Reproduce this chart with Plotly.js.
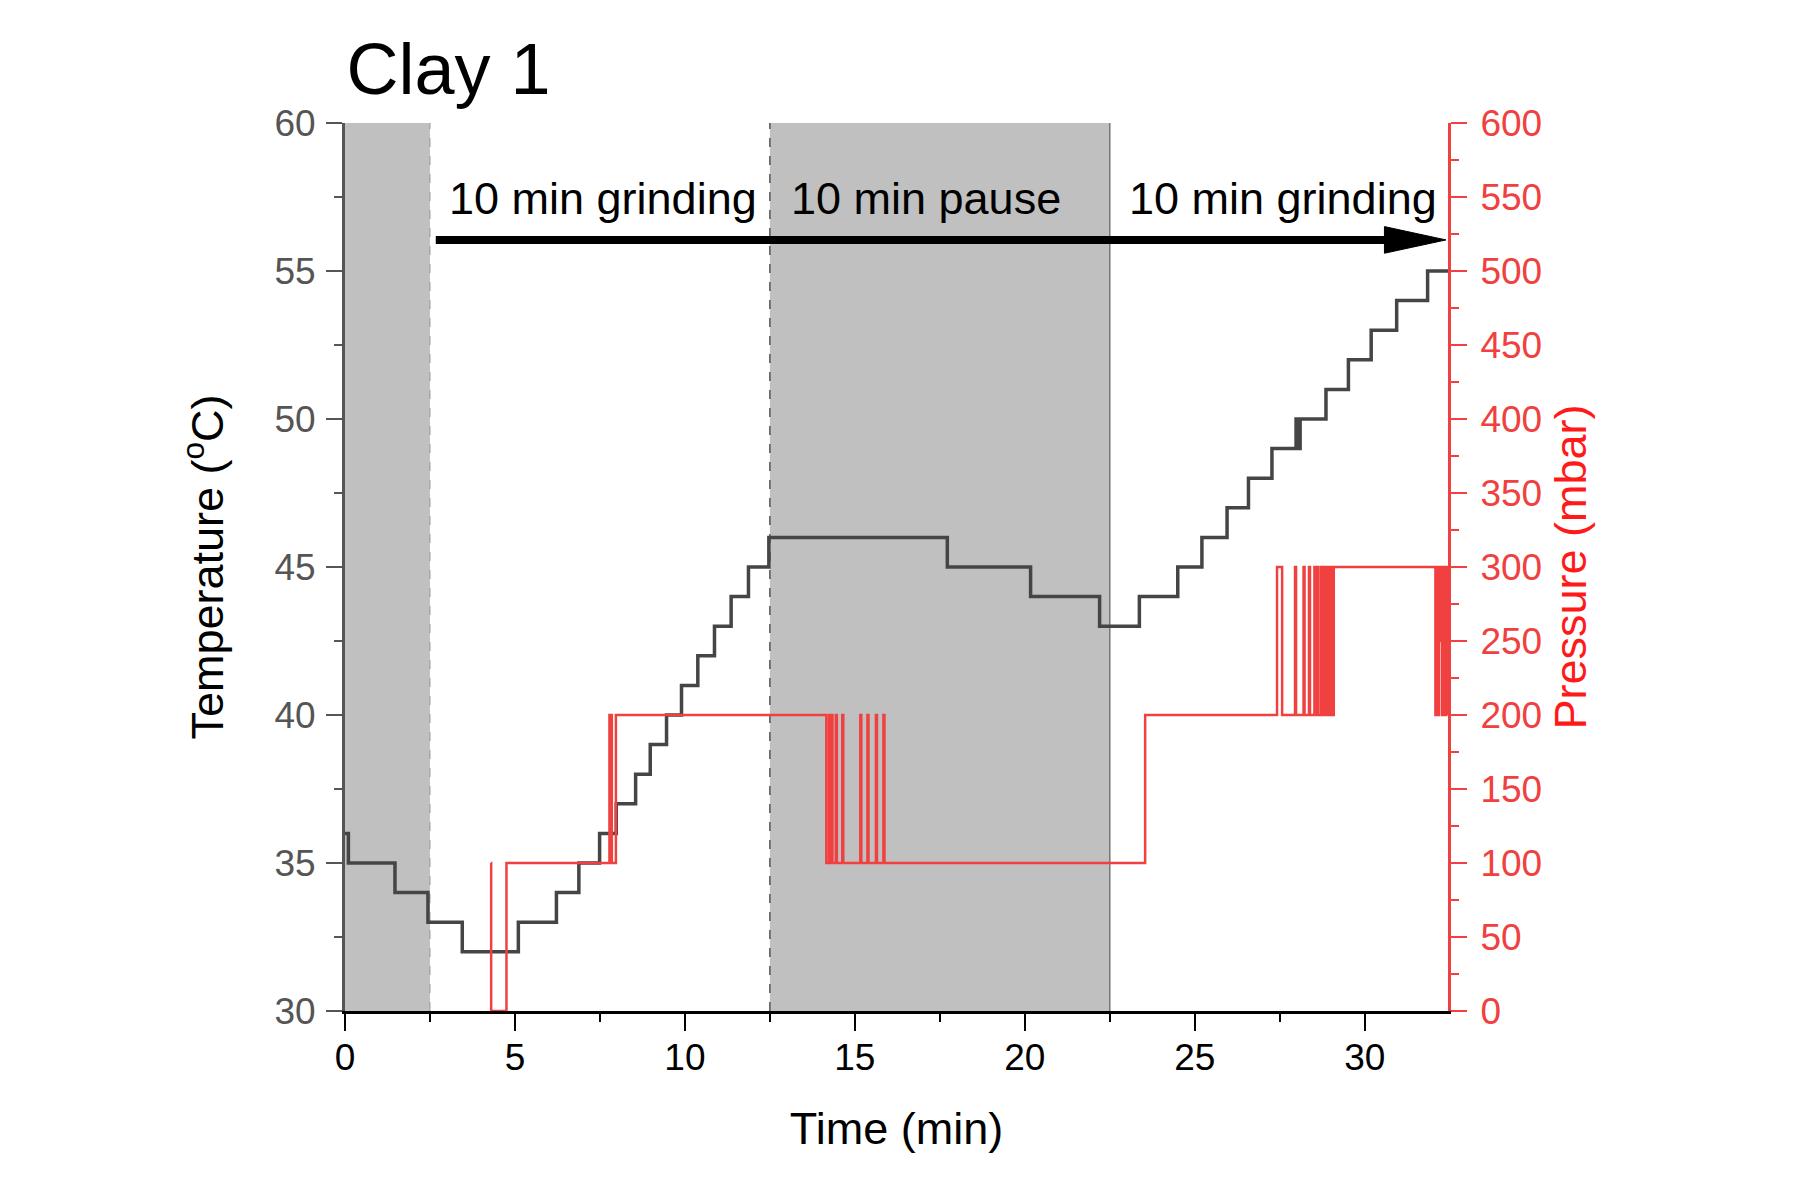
<!DOCTYPE html>
<html>
<head>
<meta charset="utf-8">
<script src="https://cdn.plot.ly/plotly-3.0.1.min.js"></script>
<style>
  body { margin: 0; background: #fff; }
  #chart { width: 1800px; height: 1200px; }
</style>
</head>
<body>
<div id="chart"></div>
<script>
// temperature steps (min, degC)
const tempTime = [0, 0.1, 1.47, 2.44, 3.45, 5.1, 6.22, 6.88, 7.49, 7.98, 8.55, 8.98, 9.46, 9.9,
  10.38, 10.87, 11.36, 11.87, 12.47, 17.72, 20.17, 22.2, 23.37, 24.5, 25.21, 25.95, 26.58,
  27.27, 27.98, 28.03, 28.1, 28.86, 29.52, 30.19, 30.94, 31.85, 32.45];
const tempValue = [36, 35, 34, 33, 32, 33, 34, 35, 36, 37, 38, 39, 40, 41,
  42, 43, 44, 45, 46, 45, 44, 43, 44, 45, 46, 47, 48,
  49, 50, 49, 50, 51, 52, 53, 54, 55, 55];

// pressure steps (min, mbar)
const pressTime = [4.29, 4.3, 4.75, 7.78, 7.85, 7.97,
  14.16, 14.24, 14.27, 14.31, 14.34, 14.44, 14.47, 14.63, 14.66,
  15.16, 15.19, 15.37, 15.4, 15.62, 15.65, 15.84, 15.87,
  23.54, 27.42, 27.57, 27.95, 27.98, 28.2, 28.23, 28.36, 28.39, 28.52, 28.55, 28.61, 28.64,
  28.72, 28.76, 28.79, 28.83, 28.86, 28.9, 28.93, 28.97, 29.0, 29.04, 29.09,
  32.08, 32.12, 32.15, 32.19, 32.22, 32.25, 32.28, 32.32, 32.36, 32.4, 32.43];
const pressValue = [100, 0, 100, 200, 100, 200,
  100, 200, 100, 200, 100, 200, 100, 200, 100,
  200, 100, 200, 100, 200, 100, 200, 100,
  200, 300, 200, 300, 200, 300, 200, 300, 200, 300, 200, 300, 200,
  300, 200, 300, 200, 300, 200, 300, 200, 300, 200, 300,
  200, 300, 200, 300, 250, 300, 200, 300, 200, 300, 200];

// shaded pause periods and phase labels
const pauseStart = [0, 12.5];
const pauseEnd = [2.5, 22.5];
const phaseLabels = ['10 min grinding', '10 min pause', '10 min grinding'];
const phaseCenters = [7.6, 17.1, 27.6];

const xMax = 32.45;
const red = '#f04040';
const font = 'Liberation Sans, Arial, sans-serif';

const traces = [
  {
    x: pressTime, y: pressValue, yaxis: 'y2', type: 'scatter', mode: 'lines',
    line: { shape: 'hv', color: red, width: 2.5 }, hoverinfo: 'skip'
  },
  {
    x: tempTime, y: tempValue, type: 'scatter', mode: 'lines',
    line: { shape: 'hv', color: '#454545', width: 3.5 }, hoverinfo: 'skip'
  }
];

const shapes = [];
pauseStart.forEach((s, i) => {
  shapes.push({
    type: 'rect', xref: 'x', yref: 'paper', x0: s, x1: pauseEnd[i], y0: 0, y1: 1,
    fillcolor: '#c0c0c0', line: { width: 0 }, layer: 'below'
  });
});
shapes.push({ type: 'line', xref: 'x', yref: 'paper', x0: 2.5, x1: 2.5, y0: 0, y1: 1,
  line: { color: '#999', width: 1, dash: 'dash' }, layer: 'below' });
shapes.push({ type: 'line', xref: 'x', yref: 'paper', x0: 12.5, x1: 12.5, y0: 0, y1: 1,
  line: { color: '#555', width: 1.5, dash: 'dash' }, layer: 'below' });
shapes.push({ type: 'line', xref: 'x', yref: 'paper', x0: 22.5, x1: 22.5, y0: 0, y1: 1,
  line: { color: '#777', width: 1.5 }, layer: 'below' });

// the long arrow across the phases
const arrowY = 56.05;
shapes.push({ type: 'line', xref: 'x', yref: 'y', x0: 2.67, x1: 30.8, y0: arrowY, y1: arrowY,
  line: { color: '#000', width: 8 } });
shapes.push({ type: 'path', xref: 'x', yref: 'y',
  path: `M 30.58,${arrowY + 0.45} L 32.39,${arrowY} L 30.58,${arrowY - 0.45} Z`,
  fillcolor: '#000', line: { color: '#000', width: 1 } });

const annotations = phaseLabels.map((txt, i) => ({
  text: txt, x: phaseCenters[i], y: 57.45, xref: 'x', yref: 'y',
  showarrow: false, font: { family: font, size: 45, color: '#000' },
  xanchor: 'center', yanchor: 'middle'
}));

const layout = {
  width: 1800,
  height: 1200,
  margin: { l: 345, r: 352, t: 123, b: 189 },
  paper_bgcolor: '#fff',
  plot_bgcolor: '#fff',
  showlegend: false,
  font: { family: font },
  title: {
    text: 'Clay 1',
    font: { family: font, size: 72, color: '#000' },
    x: 0.1925, xanchor: 'left', y: 0.943, yanchor: 'middle'
  },
  xaxis: {
    range: [0, xMax], tick0: 0, dtick: 5,
    ticks: 'outside', ticklen: 17, tickwidth: 2, tickcolor: '#000',
    minor: { dtick: 2.5, ticks: 'outside', ticklen: 8, tickwidth: 2, tickcolor: '#000' },
    showline: true, linecolor: '#000', linewidth: 3,
    showgrid: false, zeroline: false,
    tickfont: { family: font, size: 37, color: '#000' },
    ticklabelstandoff: -5,
    title: { text: 'Time (min)', font: { family: font, size: 45, color: '#000' }, standoff: 36 }
  },
  xaxis2: {
    overlaying: 'x', side: 'top', range: [0, xMax], tick0: 0, dtick: 5,
    ticks: 'inside', ticklen: 17, tickwidth: 2, tickcolor: '#000',
    minor: { dtick: 2.5, ticks: 'inside', ticklen: 9, tickwidth: 2, tickcolor: '#000' },
    showline: true, linecolor: '#000', linewidth: 2,
    showticklabels: false, showgrid: false, zeroline: false
  },
  yaxis: {
    range: [30, 60], tick0: 30, dtick: 5,
    ticks: 'outside', ticklen: 16, tickwidth: 2, tickcolor: '#555',
    minor: { dtick: 2.5, ticks: 'outside', ticklen: 8, tickwidth: 2, tickcolor: '#555' },
    showline: true, linecolor: '#555', linewidth: 3,
    showgrid: false, zeroline: false,
    tickfont: { family: font, size: 37, color: '#555' },
    ticklabelstandoff: 3,
    title: { text: 'Temperature (<sup>o</sup>C)', font: { family: font, size: 45, color: '#000' }, standoff: 37 }
  },
  yaxis2: {
    overlaying: 'y', side: 'right', range: [0, 600], tick0: 0, dtick: 50,
    ticks: 'outside', ticklen: 16, tickwidth: 2, tickcolor: red,
    minor: { dtick: 25, ticks: 'outside', ticklen: 8, tickwidth: 2, tickcolor: red },
    showline: true, linecolor: red, linewidth: 3,
    showgrid: false, zeroline: false,
    tickfont: { family: font, size: 37, color: red },
    ticklabelstandoff: 6,
    title: { text: 'Pressure (mbar)', font: { family: font, size: 45, color: '#ff1a1a' }, standoff: 14 }
  },
  shapes: shapes,
  annotations: annotations
};

Plotly.newPlot('chart', traces, layout, { staticPlot: true });
</script>
</body>
</html>
